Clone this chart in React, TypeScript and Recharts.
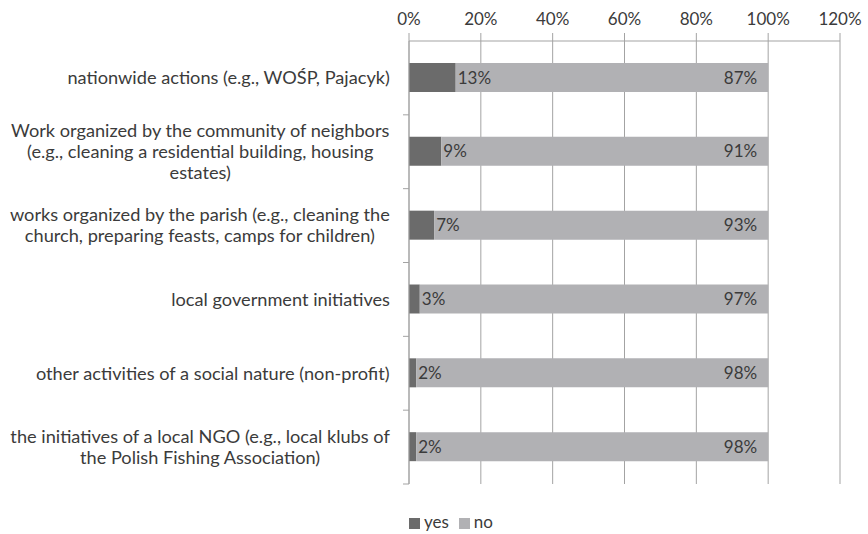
import React from 'react';
import { BarChart, Bar, XAxis, YAxis, CartesianGrid, Legend, LabelList } from 'recharts';

const categories = [
  'nationwide actions (e.g., WOŚP, Pajacyk)',
  'Work organized by the community of neighbors\n(e.g., cleaning a residential building, housing\nestates)',
  'works organized by the parish (e.g., cleaning the\nchurch, preparing feasts, camps for children)',
  'local government initiatives',
  'other activities of a social nature (non-profit)',
  'the initiatives of a local NGO (e.g., local klubs of\nthe Polish Fishing Association)',
];
const yesValues = [0.13, 0.09, 0.07, 0.03, 0.02, 0.02];
const noValues = [0.87, 0.91, 0.93, 0.97, 0.98, 0.98];
const xTicks = [0, 0.2, 0.4, 0.6, 0.8, 1.0, 1.2];

const data = categories.map((name, i) => ({ name, yes: yesValues[i], no: noValues[i] }));

const FONT = 'Lato, "Open Sans", sans-serif';
const TEXT = '#3b3b3b';
const GRID = '#a3a3a3';
const CAT_SIZE = 18.2;

let ctx: CanvasRenderingContext2D | null = null;
const measure = (s: string) => {
  if (!ctx) ctx = document.createElement('canvas').getContext('2d');
  if (!ctx) return s.length * 8;
  ctx.font = `${CAT_SIZE}px ${FONT}`;
  return ctx.measureText(s).width;
};

const pct = (v: number) => `${Math.round(v * 100)}%`;

const CategoryTick = (props: any) => {
  const { x, y, payload } = props;
  const lines: string[] = String(payload.value).split('\n');
  const maxW = Math.max(...lines.map(measure));
  const cx = x - maxW / 2;
  const lh = 21;
  const startY = y - ((lines.length - 1) * lh) / 2;
  const half = payload.offset || 37;
  return (
    <g>
      <line x1={x + 13} x2={x + 19} y1={y + half} y2={y + half} stroke={GRID} />
      <text x={cx} y={startY} textAnchor="middle" fill={TEXT} fontSize={CAT_SIZE} fontFamily={FONT}>
        {lines.map((l, i) => (
          <tspan key={i} x={cx} y={startY + i * lh} dy="0.35em">{l}</tspan>
        ))}
      </text>
    </g>
  );
};

const order: Record<string, number> = { yes: 0, no: 1 };

export default function App() {
  return (
    <div style={{ position: 'absolute', left: 0, top: 0, width: 868, height: 534, background: '#fff', fontFamily: FONT }}>
      <BarChart
        width={868}
        height={534}
        data={data}
        layout="vertical"
        margin={{ top: 0, right: 28, bottom: 29, left: 0 }}
        barSize={29}
      >
        <CartesianGrid horizontal={false} stroke={GRID} />
        <XAxis
          type="number"
          orientation="top"
          domain={[0, 1.2]}
          ticks={xTicks}
          tickFormatter={pct}
          height={41}
          tickSize={8}
          tickMargin={8}
          axisLine={{ stroke: GRID }}
          tickLine={{ stroke: GRID }}
          tick={{ fill: TEXT, fontSize: 17, fontFamily: FONT }}
        />
        <YAxis
          type="category"
          dataKey="name"
          width={409}
          tickSize={6}
          tickMargin={13}
          tickLine={false}
          axisLine={{ stroke: GRID }}
          tick={<CategoryTick />}
          interval={0}
        />
        <Legend
          verticalAlign="bottom"
          iconType="square"
          iconSize={11}
          itemSorter={(item: any) => order[item.value] ?? 0}
          wrapperStyle={{ fontSize: 17, color: TEXT, bottom: 2, paddingLeft: 36 }}
          formatter={(v: string) => <span style={{ color: TEXT }}>{v}</span>}
        />
        <Bar dataKey="yes" name="yes" stackId="a" fill="#6b6b6b" isAnimationActive={false}>
          <LabelList dataKey="yes" position="right" offset={2} formatter={pct} fill={TEXT} fontSize={17} fontFamily={FONT} />
        </Bar>
        <Bar dataKey="no" name="no" stackId="a" fill="#b1b1b4" isAnimationActive={false}>
          <LabelList dataKey="no" position="insideRight" offset={11} formatter={pct} fill={TEXT} fontSize={17} fontFamily={FONT} />
        </Bar>
      </BarChart>
    </div>
  );
}
